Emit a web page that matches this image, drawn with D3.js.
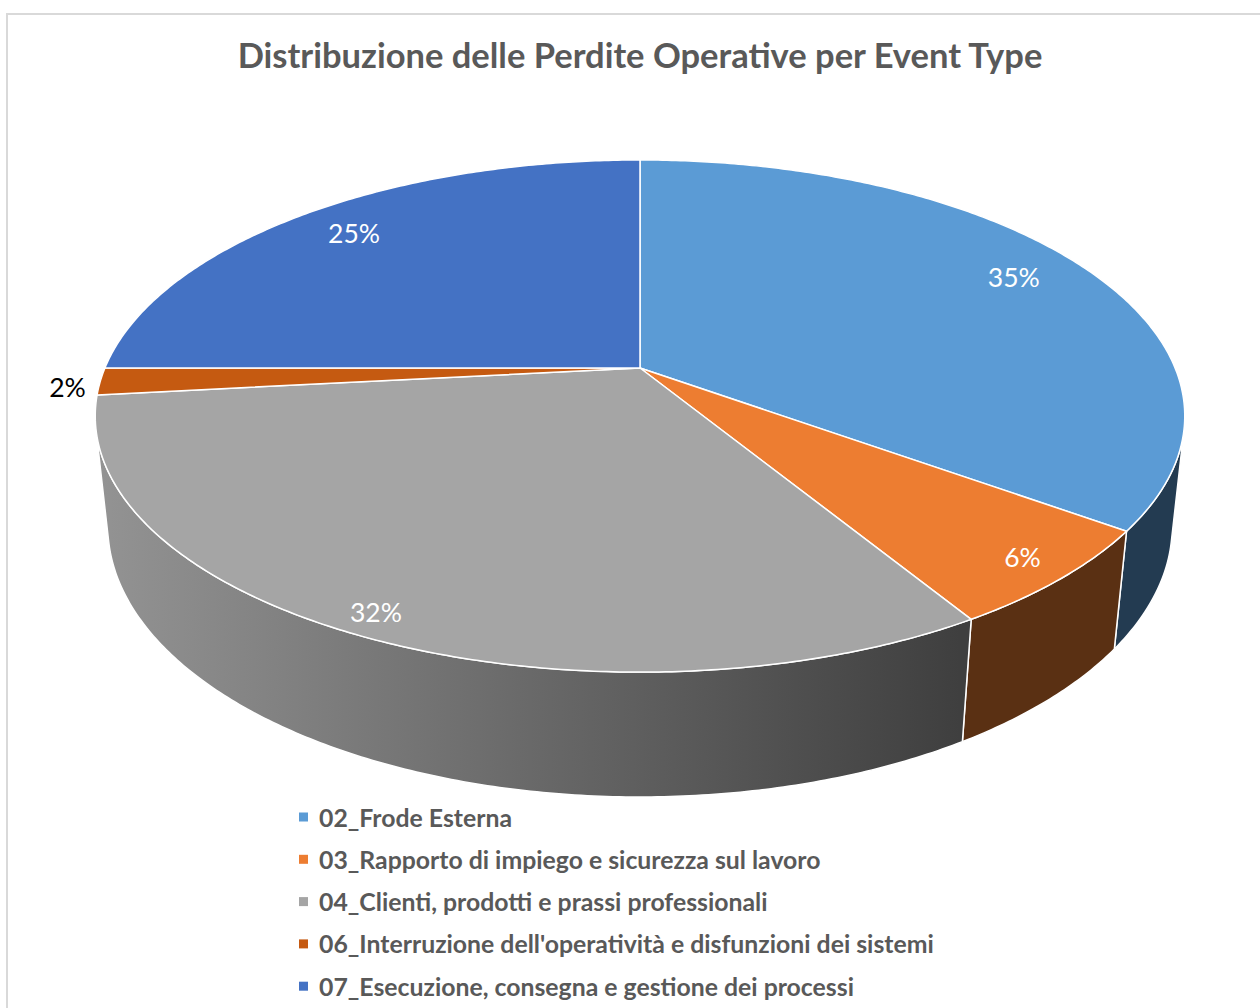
<!DOCTYPE html>
<html>
<head>
<meta charset="utf-8">
<script src="https://cdn.jsdelivr.net/npm/d3@7"></script>
<style>
  body { margin: 0; background: #fff; }
  text { font-family: Lato, "Open Sans", sans-serif; }
</style>
</head>
<body>
<div id="chart"></div>
<script>
const title = "Distribuzione delle Perdite Operative per Event Type";
const categories = [
    "02_Frode Esterna",
    "03_Rapporto di impiego e sicurezza sul lavoro",
    "04_Clienti, prodotti e prassi professionali",
    "06_Interruzione dell'operatività e disfunzioni dei sistemi",
    "07_Esecuzione, consegna e gestione dei processi"
];
const shares = [35.0, 6.3, 32.0, 1.7, 25.0];
const colors = ["#5B9BD5", "#ED7D31", "#A5A5A5", "#C55A11", "#4472C4"];

const width = 1260, height = 1008;

// perspective view of the disk (unit radius, top at h = 0, bottom at h = -depth)
const view = {cx: 640, cy: 368, f: 2531, dist: 4.730, sinA: 0.4617, cosA: 0.887, depth: 0.2345};

function project(u, v, h) {
    const d = view.dist - h * view.sinA - v * view.cosA;
    const up = h * view.cosA - v * view.sinA;
    return [view.cx + view.f * u / d, view.cy - view.f * up / d];
}

function rim(a, r, h) {
    return project(r * Math.sin(a), -r * Math.cos(a), h);
}

const svg = d3.select("#chart").append("svg")
    .attr("width", width)
    .attr("height", height);

svg.append("rect")
    .attr("x", 7).attr("y", 14)
    .attr("width", width + 20).attr("height", height + 20)
    .attr("fill", "#fff")
    .attr("stroke", "#d9d9d9")
    .attr("stroke-width", 2);

svg.append("text")
    .attr("x", 640)
    .attr("y", 68)
    .attr("text-anchor", "middle")
    .attr("font-size", 34.5)
    .attr("font-weight", "bold")
    .attr("fill", "#595959")
    .text(title);

const pie = d3.pie().sort(null).value(d => d)(shares);

// side wall faces the camera where v > limit
const vLimit = 1 / (view.dist * view.cosA);
const aVis0 = Math.acos(-vLimit), aVis1 = 2 * Math.PI - aVis0;

const defs = svg.append("defs");
const line = d3.line();

function arcPoints(a0, a1, r, h) {
    const n = Math.max(2, Math.ceil((a1 - a0) / 0.01));
    return d3.range(n + 1).map(i => rim(a0 + (a1 - a0) * i / n, r, h));
}

function shade(color, k) {
    const c = d3.rgb(color);
    return d3.rgb(c.r * k, c.g * k, c.b * k).toString();
}

// walls
const walls = svg.append("g");
pie.forEach((p, i) => {
    const a0 = Math.max(p.startAngle, aVis0), a1 = Math.min(p.endAngle, aVis1);
    if (a1 <= a0) return;
    const grad = defs.append("linearGradient")
        .attr("id", "wall" + i)
        .attr("gradientUnits", "userSpaceOnUse")
        .attr("x1", 100).attr("x2", 960).attr("y1", 0).attr("y2", 0);
    grad.append("stop").attr("offset", 0).attr("stop-color", shade(colors[i], 0.89));
    grad.append("stop").attr("offset", 1).attr("stop-color", shade(colors[i], 0.38));

    const pts = arcPoints(a0, a1, 1, 0).concat(arcPoints(a0, a1, 1, -view.depth).reverse());
    walls.append("path")
        .attr("d", line(pts) + "Z")
        .attr("fill", `url(#wall${i})`)
        .attr("stroke", "#fff")
        .attr("stroke-width", 1.5)
        .attr("stroke-linejoin", "round");
});

// top faces
const tops = svg.append("g");
pie.forEach((p, i) => {
    const pts = [project(0, 0, 0)].concat(arcPoints(p.startAngle, p.endAngle, 1, 0));
    tops.append("path")
        .attr("d", line(pts) + "Z")
        .attr("fill", colors[i])
        .attr("stroke", "#fff")
        .attr("stroke-width", 1.5)
        .attr("stroke-linejoin", "round");
});

// data labels
pie.forEach((p, i) => {
    const mid = (p.startAngle + p.endAngle) / 2;
    const inside = p.value >= 3;
    const r = inside ? 0.84 + 0.11 * Math.max(0, -Math.cos(mid)) : 1.06;
    const pos = rim(mid, r, 0);
    svg.append("text")
        .attr("x", pos[0])
        .attr("y", pos[1] + (inside ? -3 : 5))
        .attr("text-anchor", "middle")
        .attr("dominant-baseline", "central")
        .attr("font-size", 26.5)
        .attr("fill", inside ? "#fff" : "#000")
        .text(Math.round(p.value) + "%");
});

// legend
const legend = svg.append("g");
categories.forEach((c, i) => {
    const y = 817 + i * 42.3;
    legend.append("rect")
        .attr("x", 299).attr("y", y - 4.5)
        .attr("width", 9).attr("height", 9)
        .attr("fill", colors[i]);
    legend.append("text")
        .attr("x", 319)
        .attr("y", y)
        .attr("dominant-baseline", "central")
        .attr("font-size", 24.8)
        .attr("font-weight", "bold")
        .attr("fill", "#595959")
        .text(c);
});
</script>
</body>
</html>
